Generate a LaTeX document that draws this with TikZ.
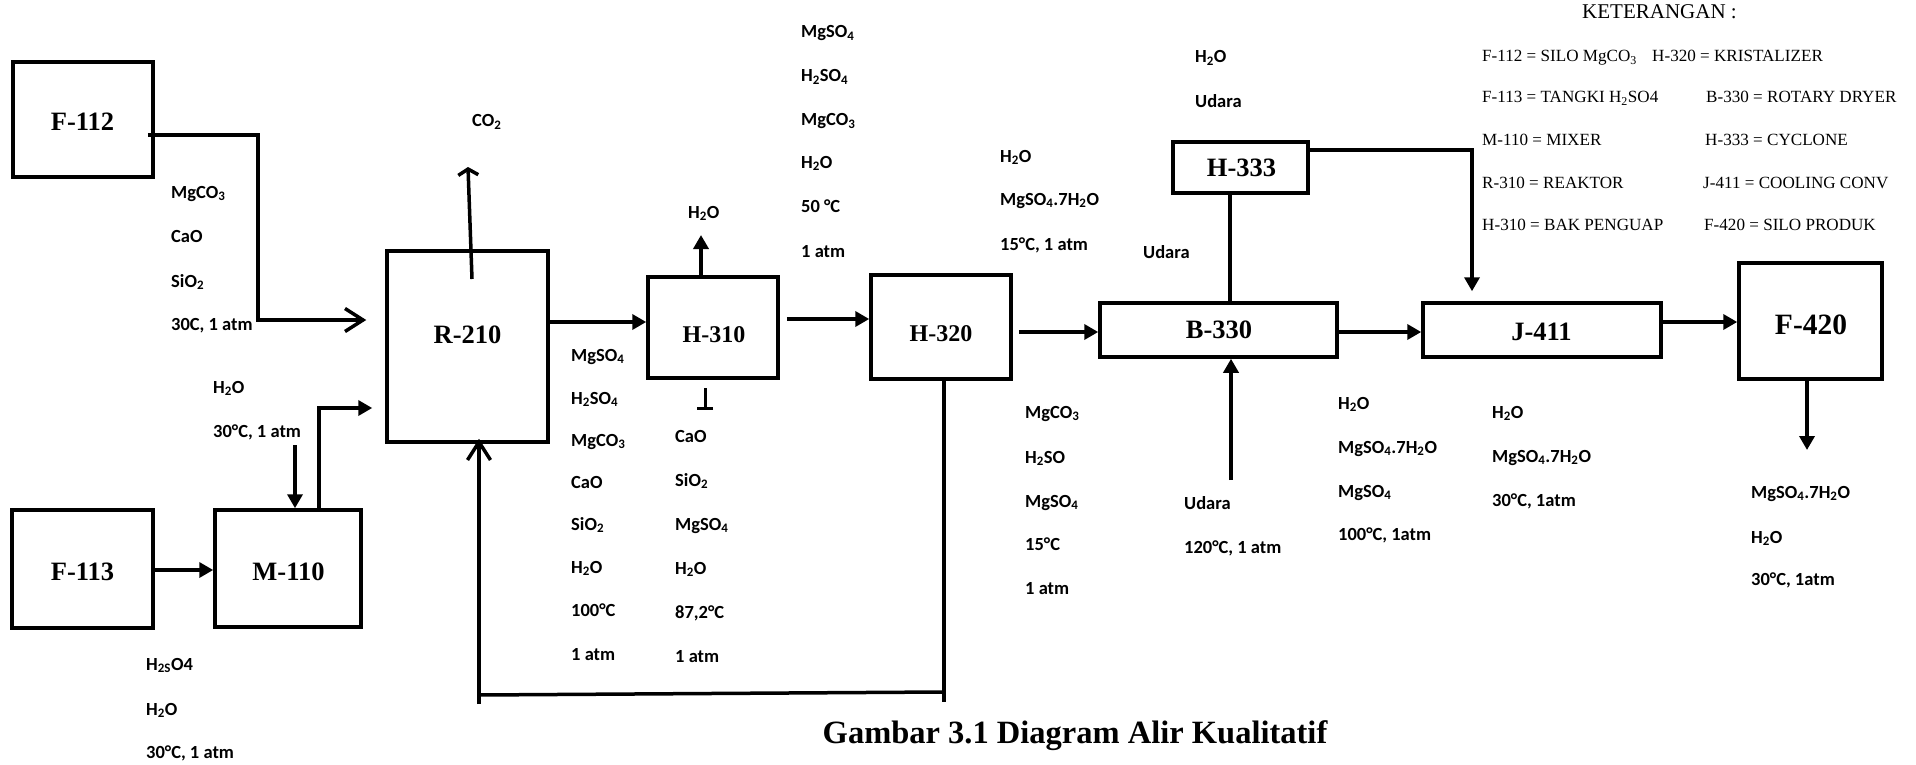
\documentclass[tikz,border=0pt]{standalone}
\usepackage{fontspec}
\setmainfont{Liberation Serif}
\newfontfamily\labfont{Carlito}
\usetikzlibrary{arrows.meta}
\tikzset{
  box/.style={draw, line width=3.5pt, rectangle, inner sep=0pt},
  unitlbl/.style={inner sep=0pt, font=\bfseries\fontsize{26.5pt}{30pt}\selectfont},
  lbl/.style={anchor=west, inner sep=0pt, font=\labfont\bfseries\fontsize{18.5pt}{22pt}\selectfont, text height=13pt, text depth=3pt},
  legend/.style={anchor=west, inner sep=0pt, font=\fontsize{17.1pt}{20pt}\selectfont, text height=11.5pt, text depth=3.5pt},
  flow/.style={line width=3.5pt, -{Triangle[length=14pt,width=15pt]}},
  openflow/.style={line width=3.5pt, -{Straight Barb[length=18pt,width=23pt]}},
  pipe/.style={line width=3.5pt},
}
\begin{document}
\begin{tikzpicture}[x=1pt,y=-1pt]
\useasboundingbox (0,0) rectangle (1916,765);

% ---------- equipment boxes ----------
\node[box, minimum width=140pt, minimum height=115pt] (F112) at (83,119.5) {};
\node[box, minimum width=141pt, minimum height=118pt] (F113) at (82.5,569) {};
\node[box, minimum width=146pt, minimum height=117pt] (M110) at (288,568.5) {};
\node[box, minimum width=161pt, minimum height=191pt] (R) at (467.5,346.5) {};
\node[box, minimum width=130pt, minimum height=101pt] (H310) at (713,327.5) {};
\node[box, minimum width=140pt, minimum height=104pt] (H320) at (941,327) {};
\node[box, minimum width=237pt, minimum height=54pt] (B330) at (1218.5,330) {};
\node[box, minimum width=135pt, minimum height=51pt] (H333) at (1240.5,167.5) {};
\node[box, minimum width=238pt, minimum height=54pt] (J411) at (1542,330) {};
\node[box, minimum width=143pt, minimum height=116pt] (F420) at (1810.5,321) {};

% ---------- equipment names ----------
\node[unitlbl] (tF112) at (82.5,122) {F-112};
\node[unitlbl] (tF113) at (82.5,572) {F-113};
\node[unitlbl] (tM110) at (288.5,572) {M-110};
\node[unitlbl] (tR) at (467.5,335) {R-210};
\node[unitlbl, font=\bfseries\fontsize{24pt}{28pt}\selectfont] (tH310) at (714,335) {H-310};
\node[unitlbl, font=\bfseries\fontsize{24pt}{28pt}\selectfont] (tH320) at (941,334) {H-320};
\node[unitlbl] (tB330) at (1219,330) {B-330};
\node[unitlbl] (tH333) at (1241.5,168) {H-333};
\node[unitlbl] (tJ411) at (1541.5,332) {J-411};
\node[unitlbl, font=\bfseries\fontsize{29.5pt}{33pt}\selectfont] (tF420) at (1811,325) {F-420};

% ---------- free ends ----------
\coordinate (h2oin) at (295,445);
\coordinate (co2s) at (472,279);
\coordinate (co2e) at (468,167);
\coordinate (h2oout) at (701,235);
\coordinate (bara) at (705,388);
\coordinate (barb) at (705,410);
\coordinate (rec1) at (944,702);
\coordinate (rec2) at (942,692);
\coordinate (rec3) at (479,695);
\coordinate (rec4) at (479,704);
\coordinate (udin) at (1231,480);
\coordinate (prod) at (1807,450);

% ---------- connectors ----------
\draw[openflow, shorten >=19pt] ([xshift=-7pt]F112.east |- 0,135) -- (258,135) -- (258,320) -- (R.west |- 0,320);
\draw[flow] (F113.east |- 0,570) -- (M110.west |- 0,570);
\draw[flow] (h2oin) -- (M110.north -| h2oin);
\draw[flow, shorten >=13pt] (M110.north -| 319,0) |- (R.west |- 0,408);
\draw[pipe, -{Straight Barb[length=6pt,width=20pt]}] (co2s) -- (co2e);
\draw[flow] (R.east |- 0,322) -- (H310.west |- 0,322);
\draw[flow] (H310.north -| h2oout) -- (h2oout);
\draw[line width=3pt, -{Bar[width=16pt]}] (bara) -- (barb);
\draw[flow, shorten <=7pt] (H310.east |- 0,319) -- (H320.west |- 0,319);
\draw[flow, shorten <=6pt] (H320.east |- 0,332) -- (B330.west |- 0,332);
\draw[pipe] (H320.south -| rec1) -- (rec1);
\draw[pipe] (rec2) -- (rec3);
\draw[openflow, shorten >=-5pt] (rec4) -- (R.south -| rec4);
\draw[flow] (B330.east |- 0,332) -- (J411.west |- 0,332);
\draw[flow] (udin) -- (B330.south -| udin);
\draw[pipe] (H333.south -| 1230,0) -- (B330.north -| 1230,0);
\draw[flow, shorten >=10pt] (H333.east |- 0,150) -| (J411.north -| 1472,0);
\draw[flow] (J411.east |- 0,322) -- (F420.west |- 0,322);
\draw[flow] (F420.south -| prod) -- (prod);

% ---------- stream labels ----------
\node[lbl] (a1) at (171,193) {MgCO\textsubscript{3}};
\node[lbl] (a2) at (171,237) {CaO};
\node[lbl] (a3) at (171,282) {SiO\textsubscript{2}};
\node[lbl] (a4) at (171,325) {30C, 1 atm};

\node[lbl] (b1) at (213,388) {H\textsubscript{2}O};
\node[lbl] (b2) at (213,432) {30°C, 1 atm};

\node[lbl] (c1) at (146,665) {H\textsubscript{2S}O4};
\node[lbl] (c2) at (146,710) {H\textsubscript{2}O};
\node[lbl] (c3) at (146,753) {30°C, 1 atm};

\node[lbl] (d1) at (472,122) {CO\textsubscript{2}};
\node[lbl] (d2) at (688,213) {H\textsubscript{2}O};

\node[lbl] (e1) at (571,356) {MgSO\textsubscript{4}};
\node[lbl] (e2) at (571,399) {H\textsubscript{2}SO\textsubscript{4}};
\node[lbl] (e3) at (571,441) {MgCO\textsubscript{3}};
\node[lbl] (e4) at (571,483) {CaO};
\node[lbl] (e5) at (571,525) {SiO\textsubscript{2}};
\node[lbl] (e6) at (571,568) {H\textsubscript{2}O};
\node[lbl] (e7) at (571,611) {100°C};
\node[lbl] (e8) at (571,655) {1 atm};

\node[lbl] (f1) at (675,437) {CaO};
\node[lbl] (f2) at (675,481) {SiO\textsubscript{2}};
\node[lbl] (f3) at (675,525) {MgSO\textsubscript{4}};
\node[lbl] (f4) at (675,569) {H\textsubscript{2}O};
\node[lbl] (f5) at (675,613) {87,2°C};
\node[lbl] (f6) at (675,657) {1 atm};

\node[lbl] (g1) at (801,33) {MgSO\textsubscript{4}};
\node[lbl] (g2) at (801,77) {H\textsubscript{2}SO\textsubscript{4}};
\node[lbl] (g3) at (801,121) {MgCO\textsubscript{3}};
\node[lbl] (g4) at (801,163) {H\textsubscript{2}O};
\node[lbl] (g5) at (801,207) {50 °C};
\node[lbl] (g6) at (801,252) {1 atm};

\node[lbl] (h1) at (1000,157) {H\textsubscript{2}O};
\node[lbl] (h2) at (1000,200) {MgSO\textsubscript{4}.7H\textsubscript{2}O};
\node[lbl] (h3) at (1000,245) {15°C, 1 atm};

\node[lbl] (i1) at (1195,58) {H\textsubscript{2}O};
\node[lbl] (i2) at (1195,103) {Udara};
\node[lbl] (i3) at (1143,253) {Udara};

\node[lbl] (j1) at (1025,413) {MgCO\textsubscript{3}};
\node[lbl] (j2) at (1025,458) {H\textsubscript{2}SO};
\node[lbl] (j3) at (1025,502) {MgSO\textsubscript{4}};
\node[lbl] (j4) at (1025,545) {15°C};
\node[lbl] (j5) at (1025,589) {1 atm};

\node[lbl] (k1) at (1184,504) {Udara};
\node[lbl] (k2) at (1184,548) {120°C, 1 atm};

\node[lbl] (l1) at (1338,404) {H\textsubscript{2}O};
\node[lbl] (l2) at (1338,448) {MgSO\textsubscript{4}.7H\textsubscript{2}O};
\node[lbl] (l3) at (1338,492) {MgSO\textsubscript{4}};
\node[lbl] (l4) at (1338,535) {100°C, 1atm};

\node[lbl] (m1) at (1492,413) {H\textsubscript{2}O};
\node[lbl] (m2) at (1492,457) {MgSO\textsubscript{4}.7H\textsubscript{2}O};
\node[lbl] (m3) at (1492,501) {30°C, 1atm};

\node[lbl] (n1) at (1751,493) {MgSO\textsubscript{4}.7H\textsubscript{2}O};
\node[lbl] (n2) at (1751,538) {H\textsubscript{2}O};
\node[lbl] (n3) at (1751,580) {30°C, 1atm};

% ---------- legend ----------
\node[legend, font=\fontsize{21pt}{24pt}\selectfont] (kt) at (1582,15) {KETERANGAN :};
\node[legend] (L1) at (1482,58) {F-112 = SILO MgCO\textsubscript{3}};
\node[legend] (L1b) at (1652,58) {H-320 = KRISTALIZER};
\node[legend] (L2) at (1482,99) {F-113 = TANGKI H\textsubscript{2}SO4};
\node[legend] (L2b) at (1706,99) {B-330 = ROTARY DRYER};
\node[legend] (L3) at (1482,142) {M-110 = MIXER};
\node[legend] (L3b) at (1705,142) {H-333 = CYCLONE};
\node[legend] (L4) at (1482,184) {R-310 = REAKTOR};
\node[legend] (L4b) at (1703,184) {J-411 = COOLING CONV};
\node[legend] (L5) at (1482,226) {H-310 = BAK PENGUAP};
\node[legend] (L5b) at (1704,226) {F-420 = SILO PRODUK};

% ---------- caption ----------
\node[inner sep=0pt, font=\bfseries\fontsize{32.5pt}{36pt}\selectfont] (cap) at (1075,736) {Gambar 3.1 Diagram Alir Kualitatif};
\end{tikzpicture}
\end{document}
